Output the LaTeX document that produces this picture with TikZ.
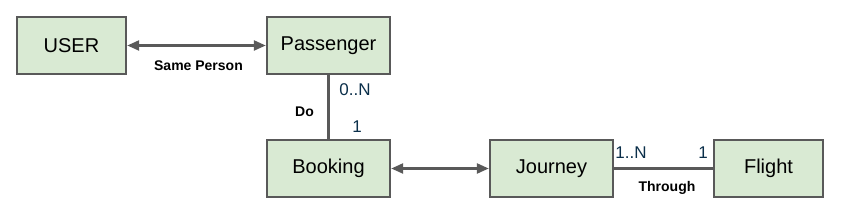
\documentclass[tikz,border=0pt]{standalone}
\usepackage{fontspec}
\setmainfont{Liberation Sans}
\usetikzlibrary{arrows.meta}
\definecolor{boxfill}{HTML}{D9EAD3}
\definecolor{edge}{HTML}{595959}
\definecolor{card}{HTML}{0B2F4A}
\begin{document}
\begin{tikzpicture}[x=1pt,y=-1pt,
  entity/.style={draw=edge,line width=2.4pt,fill=boxfill,minimum height=57pt,inner sep=0pt,font=\fontsize{20}{24}\selectfont},
  conn/.style={draw=edge,line width=2.4pt},
  both/.style={conn,{Triangle[length=12pt,width=10pt]}-{Triangle[length=12pt,width=10pt]}},
  rel/.style={font=\bfseries\fontsize{14}{16}\selectfont},
  cardl/.style={text=card,font=\fontsize{17}{20}\selectfont,inner sep=0pt}]
\useasboundingbox (0,0) rectangle (844,224);
\node[entity,minimum width=109pt] (user) at (71.5,45.5) {USER};
\node[entity,minimum width=123pt] (pass) at (328.5,45.5) {Passenger};
\node[entity,minimum width=123pt] (book) at (328.5,168.5) {Booking};
\node[entity,minimum width=123pt] (jour) at (551.5,168.5) {Journey};
\node[entity,minimum width=109pt] (flig) at (768.5,168.5) {Flight};
\draw[both] (user) -- (pass);
\draw[conn] (pass) -- (book);
\draw[both] (book) -- (jour);
\draw[conn] (jour) -- (flig);
\node[rel] (sp) at (198.5,66) {Same Person};
\node[rel] (do) at (304.5,112) {Do};
\node[rel] (th) at (667,188) {Through};
\node[cardl] (c1) at (355,90) {0..N};
\node[cardl] (c2) at (357,127) {1};
\node[cardl] (c3) at (631,153) {1..N};
\node[cardl] (c4) at (703,153) {1};
\end{tikzpicture}
\end{document}
